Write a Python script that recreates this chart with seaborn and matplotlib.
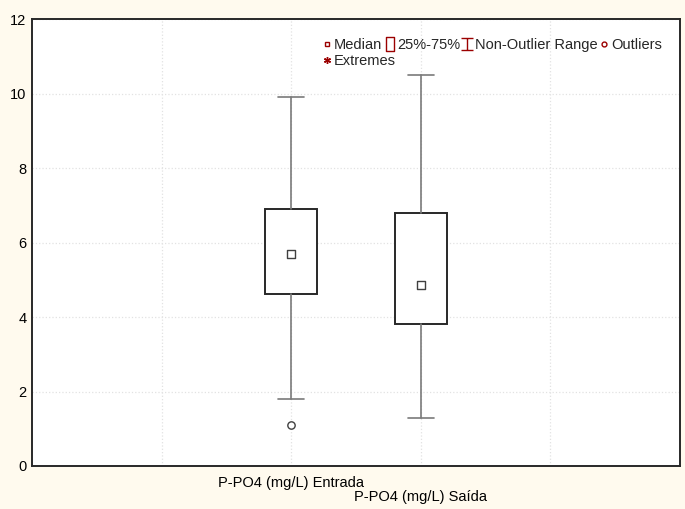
import matplotlib.pyplot as plt
import numpy as np
import pandas as pd
import seaborn as sns
from matplotlib.lines import Line2D
from matplotlib.path import Path

# dati (boxplot P-PO4)
categorie = ["P-PO4 (mg/L) Entrada", "P-PO4 (mg/L) Saída"]
mediane = [5.7, 4.85]
q1 = [4.62, 3.81]
q3 = [6.89, 6.78]
baffo_min = [1.8, 1.3]
baffo_max = [9.9, 10.5]
outlier = [[1.1], []]
y_ticks = [0, 2, 4, 6, 8, 10, 12]

sns.set_theme(style="whitegrid")
plt.rcParams["font.family"] = ["Liberation Sans", "DejaVu Sans"]

fig = plt.figure(figsize=(6.85, 5.09), dpi=100, facecolor="#fffaee")
ax = fig.add_axes([0.0467, 0.0845, 0.946, 0.878])
ax.set_facecolor("white")

pos = np.arange(len(categorie)) + 2

stats = []
for i, nome in enumerate(categorie):
    stats.append(
        {
            "label": nome,
            "med": mediane[i],
            "q1": q1[i],
            "q3": q3[i],
            "whislo": baffo_min[i],
            "whishi": baffo_max[i],
            "fliers": [],
        }
    )

ax.bxp(
    stats,
    positions=pos,
    widths=0.4,
    capwidths=0.2,
    showfliers=False,
    patch_artist=True,
    boxprops=dict(facecolor="white", edgecolor="#282828", linewidth=1.4),
    whiskerprops=dict(color="#7a7a7a", linewidth=1.2),
    capprops=dict(color="#7a7a7a", linewidth=1.2),
    medianprops=dict(linewidth=0),
    zorder=3,
)

# mediane come quadratini
df_med = pd.DataFrame({"x": pos, "mediana": mediane})
sns.scatterplot(
    data=df_med, x="x", y="mediana", marker="s", s=36,
    facecolor="white", edgecolor="#404040", linewidth=1.0, ax=ax, zorder=5,
)

# outlier
ox, oy = [], []
for p, vals in zip(pos, outlier):
    for v in vals:
        ox.append(p)
        oy.append(v)
df_out = pd.DataFrame({"x": ox, "valore": oy})
sns.scatterplot(
    data=df_out, x="x", y="valore", marker="o", s=28,
    facecolor="white", edgecolor="#404040", linewidth=1.0, ax=ax, zorder=5,
)

ax.set_xlim(0, 5)
ax.set_ylim(0, 12)
ax.set_xticks(pos)
ax.set_xticklabels(categorie, fontsize=10.5, color="black")
ax.set_xticks([1, 4], minor=True)
ax.set_yticks(y_ticks)
ax.set_yticklabels([str(t) for t in y_ticks], fontsize=10.5, color="black")
ax.set_xlabel("")
ax.set_ylabel("")

# etichette sfalsate
for i, lab in enumerate(ax.get_xticklabels()):
    if i % 2 == 1:
        lab.set_y(-0.032)

ax.tick_params(axis="both", which="major", direction="in", length=3,
               color="#303030", pad=4)
ax.tick_params(axis="x", which="major", pad=7)
ax.tick_params(axis="x", which="minor", length=0)
ax.grid(True, which="both", color="#e2e2e2", linestyle=":", linewidth=0.9)
ax.set_axisbelow(True)
for s in ax.spines.values():
    s.set_visible(True)
    s.set_color("#282828")
    s.set_linewidth(1.4)

# legenda in stile Statistica
rosso = "#9b0000"
rett = Path([(-0.3, -0.5), (0.3, -0.5), (0.3, 0.5), (-0.3, 0.5), (-0.3, -0.5)],
            [Path.MOVETO, Path.LINETO, Path.LINETO, Path.LINETO, Path.CLOSEPOLY])
ibeam = Path([(-0.5, 0.5), (0.5, 0.5), (0, 0.5), (0, -0.5), (-0.5, -0.5), (0.5, -0.5)],
             [Path.MOVETO, Path.LINETO, Path.MOVETO, Path.LINETO, Path.MOVETO, Path.LINETO])

h1 = [
    Line2D([], [], ls="none", marker="s", ms=3, mfc="none", mec=rosso, mew=1),
    Line2D([], [], ls="none", marker=rett, ms=10, mfc="none", mec=rosso, mew=1),
    Line2D([], [], ls="none", marker=ibeam, ms=8, mfc="none", mec=rosso, mew=1),
    Line2D([], [], ls="none", marker="o", ms=3.5, mfc="none", mec=rosso, mew=1),
]
l1 = ax.legend(h1, ["Median", "25%-75%", "Non-Outlier Range", "Outliers"],
               loc="upper left", bbox_to_anchor=(0.448, 0.958), ncol=4,
               frameon=False, fontsize=10.5, handlelength=0.6,
               handletextpad=0.2, columnspacing=0.2, borderpad=0,
               borderaxespad=0)
ax.add_artist(l1)
h2 = [Line2D([], [], ls="none", marker=(6, 2, 0), ms=5, mec=rosso, mew=1)]
ax.legend(h2, ["Extremes"], loc="upper left", bbox_to_anchor=(0.448, 0.922),
          frameon=False, fontsize=10.5, handlelength=0.6, handletextpad=0.2,
          borderpad=0, borderaxespad=0)

plt.savefig("out.png", dpi=100, facecolor=fig.get_facecolor())
